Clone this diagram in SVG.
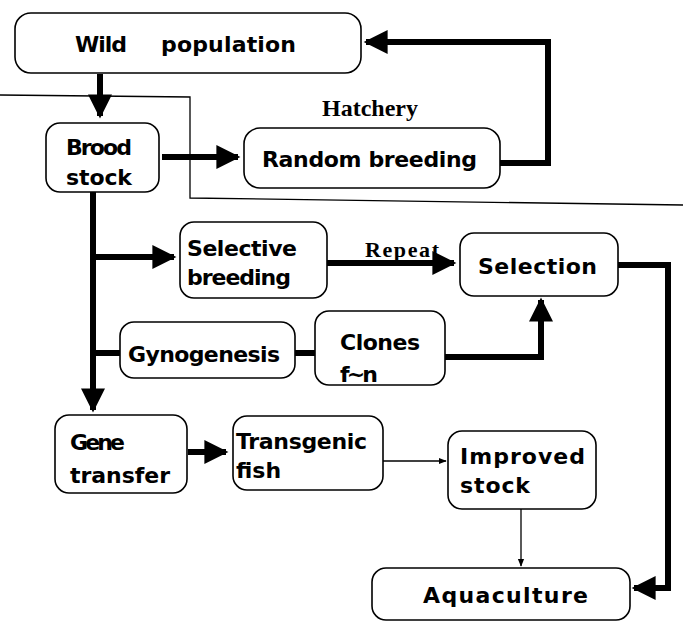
<svg xmlns="http://www.w3.org/2000/svg" width="683" height="621" viewBox="0 0 683 621">
<style>
.box{fill:#fff;stroke:#000;stroke-width:1.6}
.t{font-family:"DejaVu Sans","Liberation Sans",sans-serif;font-weight:bold;font-size:22px;fill:#000}
.s{font-family:"Liberation Serif","Times New Roman",serif;font-weight:bold;fill:#000}
.thick{fill:none;stroke:#000;stroke-width:6}
.thin{fill:none;stroke:#000;stroke-width:1.3}
</style>
<defs>
<marker id="ah" viewBox="0 0 10 10" refX="9" refY="5" markerWidth="4.2" markerHeight="4" orient="auto" markerUnits="strokeWidth">
<path d="M0,0 L10,5 L0,10 z" fill="#000"/>
</marker>
<marker id="ahs" viewBox="0 0 10 10" refX="9" refY="5" markerWidth="7" markerHeight="6" orient="auto" markerUnits="strokeWidth">
<path d="M0,1 L10,5 L0,9 z" fill="#000"/>
</marker>
</defs>
<rect width="683" height="621" fill="#fff"/>
<g id="hatchery-boundary">
<path class="thin" d="M0,95 L190,97 L190,198 L683,205" stroke-width="1.2"/>
<text class="s" x="322" y="116" font-size="24">Hatchery</text>
</g>
<g id="connectors">
<path class="thick" d="M100,74 V116" marker-end="url(#ah)"/>
<path class="thick" d="M162,157 H238" marker-end="url(#ah)"/>
<path class="thick" d="M500,163 H548 V42 H366" marker-end="url(#ah)"/>
<path class="thick" d="M93,192 V410" marker-end="url(#ah)"/>
<path class="thick" d="M93,257 H174" marker-end="url(#ah)"/>
<path class="thick" d="M327,263 H454" marker-end="url(#ah)"/>
<path class="thick" d="M93,353 H120"/>
<path class="thick" d="M295,353 H315"/>
<path class="thick" d="M445,357 H541 V300" marker-end="url(#ah)"/>
<path class="thick" d="M618,265 H668 V588 H634" marker-end="url(#ah)"/>
<path class="thick" d="M188,452 H226" marker-end="url(#ah)"/>
<path class="thin" d="M383,461 H446" marker-end="url(#ahs)"/>
<path class="thin" d="M521,509 V566" marker-end="url(#ahs)"/>
<text class="s" x="365" y="257" font-size="22" textLength="74">Repeat</text>
</g>
<g id="wild-population">
<rect class="box" x="15" y="13" width="346" height="60" rx="16"/>
<text class="t" x="75" y="52" font-size="24" textLength="52">Wild</text>
<text class="t" x="161" y="52" font-size="24" textLength="135">population</text>
</g>
<g id="brood-stock">
<rect class="box" x="46" y="123" width="113" height="69" rx="14"/>
<text class="t" x="66" y="155" textLength="66">Brood</text>
<text class="t" x="66" y="185" textLength="66">stock</text>
</g>
<g id="random-breeding">
<rect class="box" x="244" y="128" width="256" height="60" rx="16"/>
<text class="t" x="262" y="167" textLength="215">Random breeding</text>
</g>
<g id="selective-breeding">
<rect class="box" x="180" y="222" width="147" height="76" rx="14"/>
<text class="t" x="187" y="256" textLength="110">Selective</text>
<text class="t" x="187" y="285" textLength="104">breeding</text>
</g>
<g id="selection">
<rect class="box" x="460" y="233" width="158" height="63" rx="14"/>
<text class="t" x="478" y="274" textLength="119">Selection</text>
</g>
<g id="gynogenesis">
<rect class="box" x="120" y="322" width="175" height="56" rx="14"/>
<text class="t" x="128" y="362" textLength="152">Gynogenesis</text>
</g>
<g id="clones">
<rect class="box" x="315" y="311" width="130" height="74" rx="14"/>
<text class="t" x="340" y="350" textLength="80">Clones</text>
<text class="t" x="340" y="382" textLength="38">f~n</text>
</g>
<g id="gene-transfer">
<rect class="box" x="55" y="415" width="132" height="78" rx="14"/>
<text class="t" x="70" y="450" textLength="55">Gene</text>
<text class="t" x="70" y="483" textLength="100">transfer</text>
</g>
<g id="transgenic-fish">
<rect class="box" x="233" y="416" width="150" height="74" rx="14"/>
<text class="t" x="236" y="449" textLength="131">Transgenic</text>
<text class="t" x="236" y="478">fish</text>
</g>
<g id="improved-stock">
<rect class="box" x="448" y="431" width="148" height="78" rx="14"/>
<text class="t" x="460" y="464" textLength="125">Improved</text>
<text class="t" x="460" y="493" textLength="70">stock</text>
</g>
<g id="aquaculture">
<rect class="box" x="372" y="568" width="258" height="52" rx="14"/>
<text class="t" x="423" y="603" textLength="165">Aquaculture</text>
</g>
</svg>
